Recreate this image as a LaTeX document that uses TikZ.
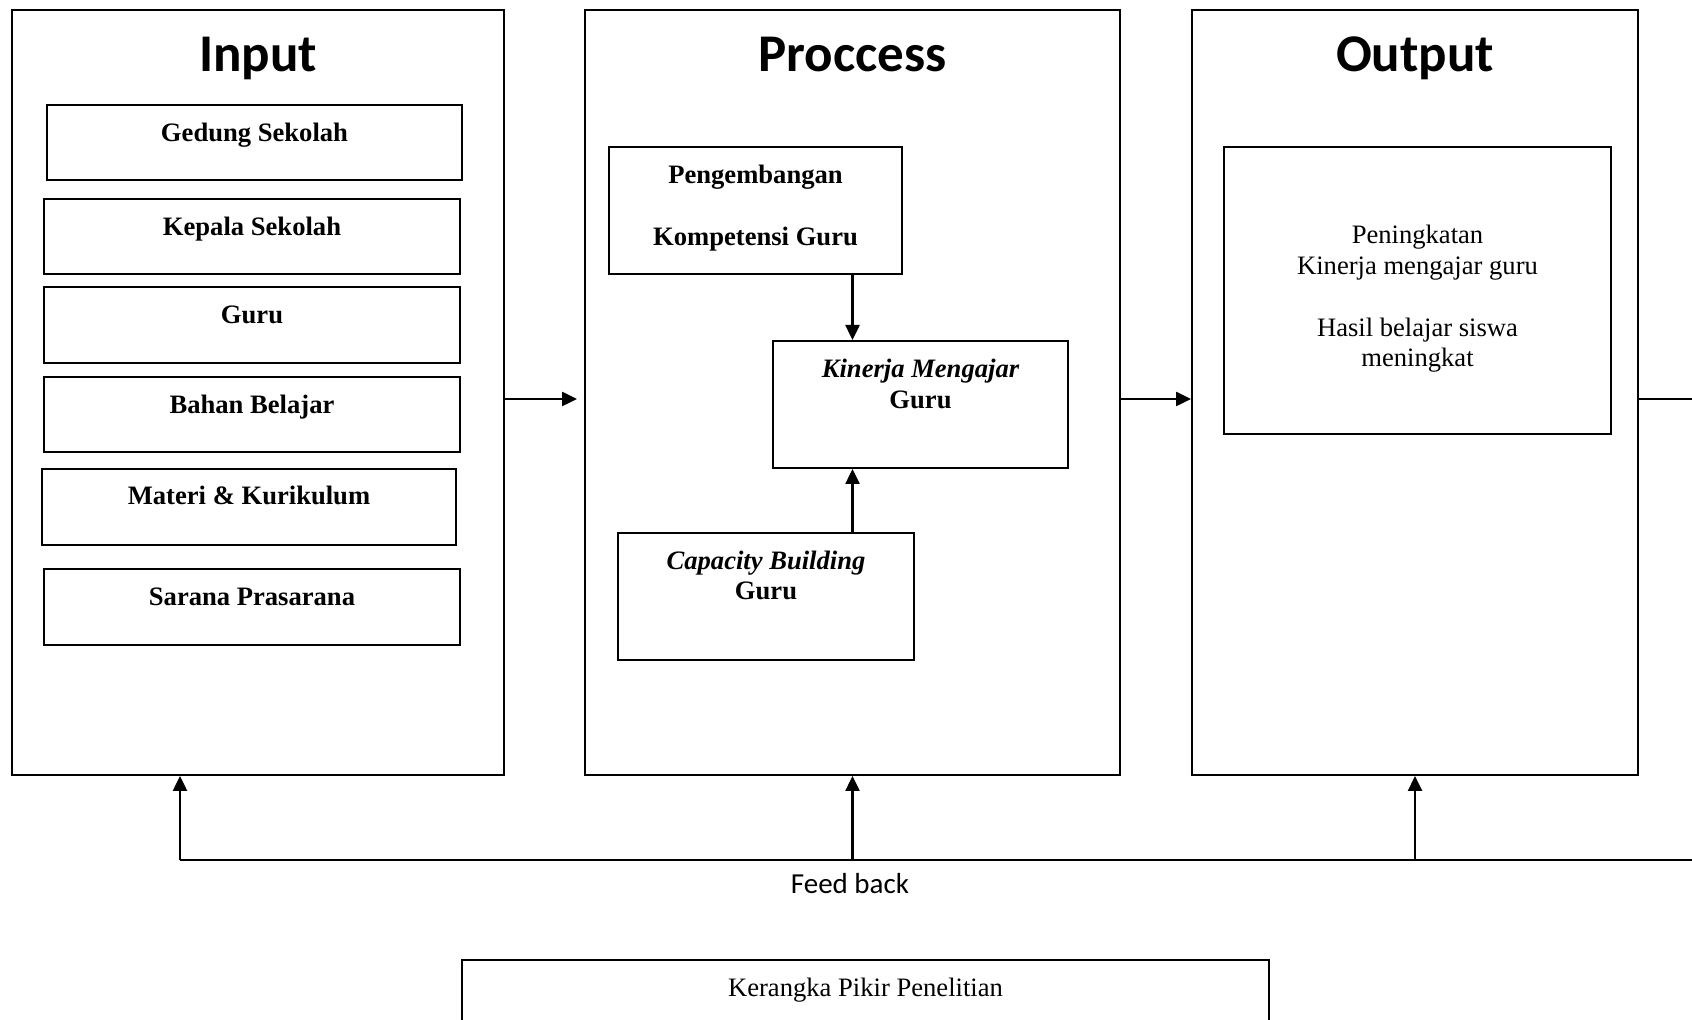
\documentclass[tikz,border=0pt]{standalone}
\usepackage{fontspec}
\setmainfont{Liberation Serif}
\newfontfamily\carlitofont{Carlito}
\usetikzlibrary{arrows.meta,fit,calc}
\begin{document}
\begin{tikzpicture}[x=0.5pt,y=-0.5pt,
  frame/.style={draw, line width=1pt, inner sep=0pt},
  titletxt/.style={font=\carlitofont\fontsize{26.5}{30}\selectfont\bfseries, inner sep=0pt, anchor=base},
  btxt/.style={font=\fontsize{13.3}{15.3}\selectfont\bfseries, inner sep=0pt, anchor=base},
  itxt/.style={font=\fontsize{13.3}{15.3}\selectfont\bfseries\itshape, inner sep=0pt, anchor=base},
  ntxt/.style={font=\fontsize{13.3}{15.3}\selectfont, inner sep=0pt, anchor=base},
  fbtxt/.style={font=\carlitofont\fontsize{14.5}{17}\selectfont, inner sep=0pt, anchor=base},
  arr/.style={line width=1.25pt, -{Triangle[length=7.5pt,width=7pt]}},
  ln/.style={line width=1.25pt}]
\useasboundingbox (0,0) rectangle (1692,1020);
\clip (0,0) rectangle (1692,1020);

% main frames
\node[frame, fit={(12,10) (504,775)}] (input) {};
\node[frame, fit={(585,10) (1120,775)}] (process) {};
\node[frame, fit={(1192,10) (1638,775)}] (output) {};

\node[titletxt] (inputT) at ($(input.north)+(0,63)$) {Input};
\node[titletxt] (processT) at ($(process.north)+(0,63)$) {Proccess};
\node[titletxt] (outputT) at ($(output.north)+(0,63)$) {Output};

% input boxes
\node[frame, fit={(47,105) (462,180)}] (gedung) {};
\node[frame, fit={(44,199) (460,274)}] (kepala) {};
\node[frame, fit={(44,287) (460,363)}] (guru) {};
\node[frame, fit={(44,377) (460,452)}] (bahan) {};
\node[frame, fit={(42,469) (456,545)}] (materi) {};
\node[frame, fit={(44,569) (460,645)}] (sarana) {};

\node[btxt] (gedungT) at ($(gedung.north)+(0,38)$) {Gedung Sekolah};
\node[btxt] (kepalaT) at ($(kepala.north)+(0,38)$) {Kepala Sekolah};
\node[btxt] (guruT) at ($(guru.north)+(0,38)$) {Guru};
\node[btxt] (bahanT) at ($(bahan.north)+(0,38)$) {Bahan Belajar};
\node[btxt] (materiT) at ($(materi.north)+(0,37)$) {Materi \& Kurikulum};
\node[btxt] (saranaT) at ($(sarana.north)+(0,38)$) {Sarana Prasarana};

% process boxes
\node[frame, fit={(609,147) (902,274)}] (peng) {};
\node[frame, fit={(773,341) (1068,468)}] (kin) {};
\node[frame, fit={(618,533) (914,660)}] (cap) {};

\node[btxt] (pengT1) at ($(peng.north)+(0,38)$) {Pengembangan};
\node[btxt] (pengT2) at ($(peng.north)+(0,100)$) {Kompetensi Guru};
\node[itxt] (kinT1) at ($(kin.north)+(0,38)$) {Kinerja Mengajar};
\node[btxt] (kinT2) at ($(kin.north)+(0,69)$) {Guru};
\node[itxt] (capT1) at ($(cap.north)+(0,38)$) {Capacity Building};
\node[btxt] (capT2) at ($(cap.north)+(0,68)$) {Guru};

% output box
\node[frame, fit={(1224,147) (1611,434)}] (res) {};
\node[ntxt] (resT1) at ($(res.north)+(0,98)$) {Peningkatan};
\node[ntxt] (resT2) at ($(res.north)+(0,129)$) {Kinerja mengajar guru};
\node[ntxt] (resT3) at ($(res.north)+(0,191)$) {Hasil belajar siswa};
\node[ntxt] (resT4) at ($(res.north)+(0,221)$) {meningkat};

% caption box
\node[frame, fit={(462,960) (1269,1040)}] (caption) {};
\node[ntxt] (captionT) at ($(caption.north)+(0,37)$) {Kerangka Pikir Penelitian};

% feedback label
\node[fbtxt] (fbT) at (850,893) {Feed back};

% connectors
\coordinate (ay) at (0,399);
\coordinate (inTip) at (577,399);
\coordinate (offR) at (1730,399);
\coordinate (offRB) at (1730,860);
\coordinate (fbL) at (180,860);

\draw[arr] (input.east |- ay) -- (inTip);
\draw[arr] (process.east |- ay) -- (output.west |- ay);
\draw[ln] (output.east |- ay) -- (offR) -- (offRB) -- (fbL);
\draw[arr] (fbL) -- (fbL |- input.south);
\draw[arr] (process.south |- fbL) -- (process.south);
\draw[arr] (output.south |- fbL) -- (output.south);

\draw[arr] (peng.south -| process.north) -- (kin.north -| process.north);
\draw[arr] (cap.north -| process.north) -- (kin.south -| process.north);
\end{tikzpicture}
\end{document}
